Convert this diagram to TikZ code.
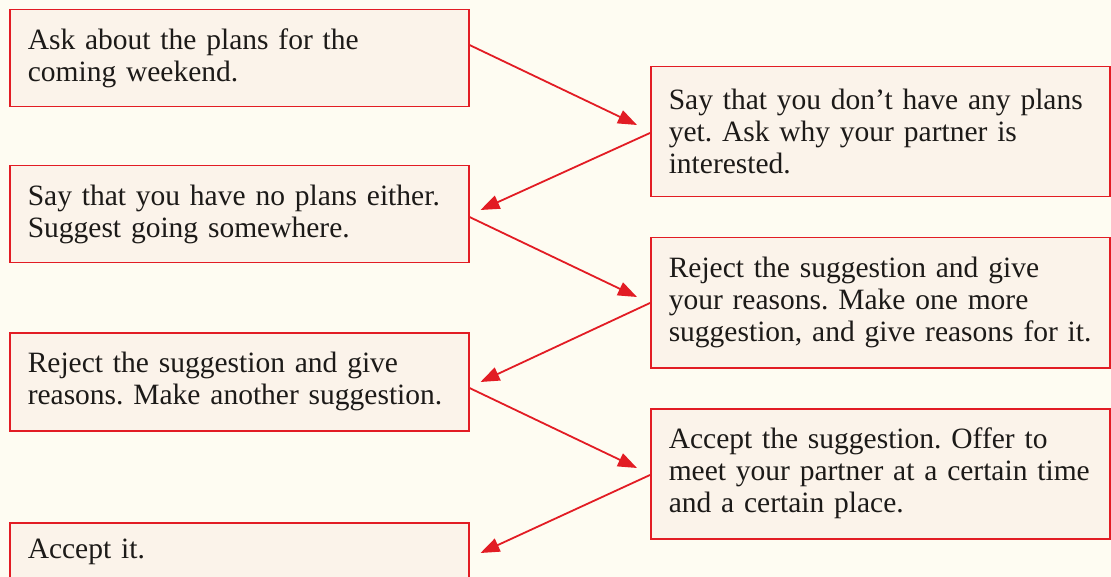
\documentclass[tikz,border=0pt]{standalone}
\usepackage{fontspec}
\setmainfont{Liberation Serif}
\usepackage{xcolor}
\usetikzlibrary{arrows.meta}
\definecolor{bgcream}{RGB}{254,252,242}
\definecolor{cardfill}{RGB}{251,243,234}
\definecolor{cardred}{RGB}{226,28,36}
\definecolor{inkblack}{RGB}{28,26,24}
\frenchspacing
\hyphenpenalty=10000

\begin{document}
\begin{tikzpicture}[x=1pt,y=-1pt,>=Stealth,
card/.style={draw=cardred,fill=cardfill,line width=1.5pt,anchor=north west,
  minimum width=459pt,text width=423pt,inner xsep=18pt,inner ysep=8pt,align=left,
  text=inkblack,font=\fontsize{29.5}{32}\selectfont},
arr/.style={draw=cardred,line width=1.8pt,-{Triangle[length=19pt,width=14pt]}}]
\useasboundingbox(0,0)rectangle(1111,577);
\fill[bgcream](0,0)rectangle(1111,577);
\node[card,minimum height=97pt](ask)at(9,9){Ask about the plans for the\\coming weekend.};
\node[card,minimum height=130pt](noplans)at(650,66){Say that you don’t have any plans\\yet. Ask why your partner is\\interested.};
\node[card,minimum height=97pt](suggest)at(9,165){Say that you have no plans either.\\Suggest going somewhere.};
\node[card,minimum height=130pt](rejectone)at(650,237){Reject the suggestion and give\\your reasons. Make one more\\suggestion, and give reasons for it.};
\node[card,minimum height=98pt](rejecttwo)at(9,332){Reject the suggestion and give\\reasons. Make another suggestion.};
\node[card,minimum height=130pt](accept)at(650,408){Accept the suggestion. Offer to\\meet your partner at a certain time\\and a certain place.};
\node[card,minimum height=58pt](acceptit)at(9,522){Accept it.};
\draw[arr]([yshift=-36pt]ask.north east)--([xshift=-13pt,yshift=-59pt]noplans.north west);
\draw[arr]([yshift=-67pt]noplans.north west)--([xshift=11pt,yshift=-45pt]suggest.north east);
\draw[arr]([yshift=-52pt]suggest.north east)--([xshift=-13pt,yshift=-60pt]rejectone.north west);
\draw[arr]([yshift=-66pt]rejectone.north west)--([xshift=11pt,yshift=-50pt]rejecttwo.north east);
\draw[arr]([yshift=-56pt]rejecttwo.north east)--([xshift=-13pt,yshift=-60pt]accept.north west);
\draw[arr]([yshift=-67pt]accept.north west)--([xshift=11pt,yshift=-31pt]acceptit.north east);
\end{tikzpicture}
\end{document}
